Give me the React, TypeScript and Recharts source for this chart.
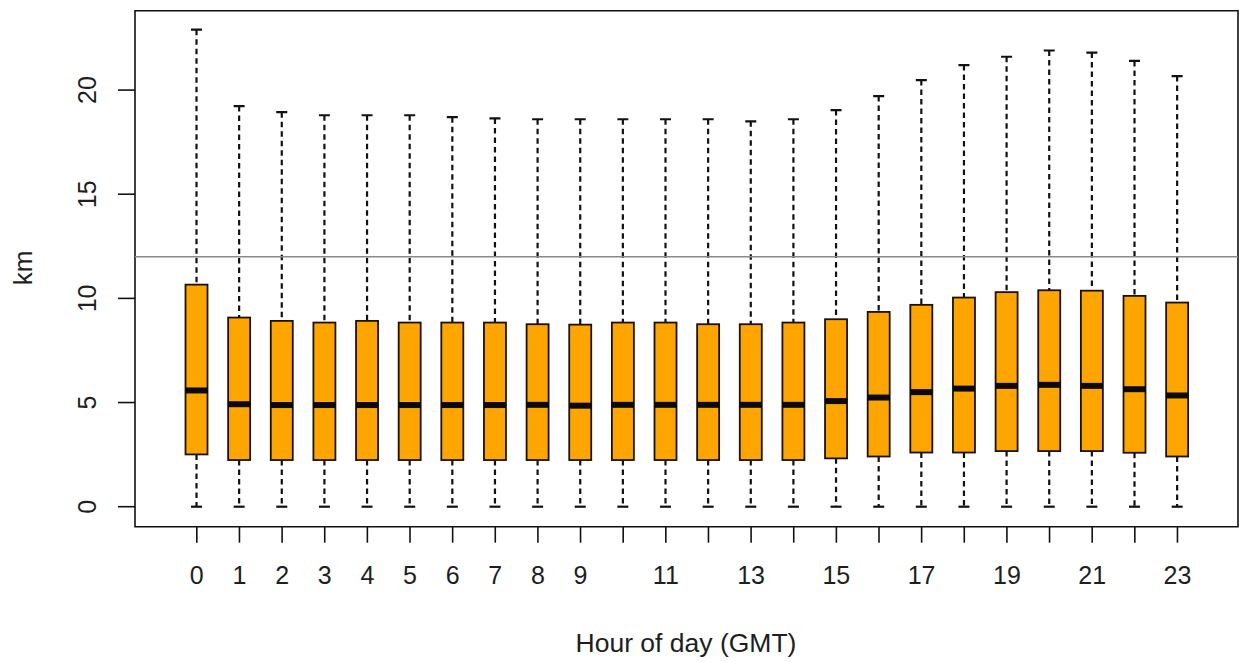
import React from "react";
import {
  ComposedChart,
  Bar,
  XAxis,
  YAxis,
  ReferenceLine,
  ReferenceArea,
  Label,
} from "recharts";

/* ===== data ===== */
const hours = [0, 1, 2, 3, 4, 5, 6, 7, 8, 9, 10, 11, 12, 13, 14, 15, 16, 17, 18, 19, 20, 21, 22, 23];

const xTickLabels = ["0", "1", "2", "3", "4", "5", "6", "7", "8", "9", "", "11", "", "13", "", "15", "", "17", "", "19", "", "21", "", "23"];

const whiskerLow = [0, 0, 0, 0, 0, 0, 0, 0, 0, 0, 0, 0, 0, 0, 0, 0, 0, 0, 0, 0, 0, 0, 0, 0];

const lowerQuartile = [2.51, 2.24, 2.24, 2.24, 2.24, 2.24, 2.24, 2.24, 2.24, 2.24, 2.24, 2.24, 2.24, 2.24, 2.24, 2.32, 2.41, 2.6, 2.6, 2.67, 2.67, 2.67, 2.59, 2.41];

const medians = [5.58, 4.92, 4.88, 4.88, 4.88, 4.88, 4.88, 4.88, 4.89, 4.85, 4.89, 4.89, 4.89, 4.89, 4.89, 5.07, 5.24, 5.5, 5.67, 5.8, 5.85, 5.8, 5.64, 5.34];

const upperQuartile = [10.66, 9.08, 8.92, 8.84, 8.92, 8.84, 8.84, 8.84, 8.76, 8.74, 8.84, 8.84, 8.76, 8.76, 8.84, 9.0, 9.35, 9.69, 10.04, 10.3, 10.39, 10.37, 10.12, 9.8];

const whiskerHigh = [22.9, 19.23, 18.94, 18.79, 18.79, 18.79, 18.7, 18.64, 18.6, 18.6, 18.6, 18.6, 18.6, 18.5, 18.6, 19.04, 19.71, 20.48, 21.2, 21.6, 21.9, 21.8, 21.4, 20.67];

const yTicks = [0, 5, 10, 15, 20];
const threshold = 12;

const X_DOMAIN: [number, number] = [-1.45, 24.42];
const Y_DOMAIN: [number, number] = [-0.96, 23.81];

const FONT = "'Liberation Sans', Arial, Helvetica, sans-serif";
const TEXT = "#1e1e1e";

const rows = hours.map((h, i) => ({
  hour: h,
  low: whiskerLow[i],
  q1: lowerQuartile[i],
  median: medians[i],
  q3: upperQuartile[i],
  high: whiskerHigh[i],
}));

/* ===== one whole box + whiskers per bar ===== */
const BoxShape = (props: any) => {
  const { x, y, width, height, payload } = props;
  if (!payload) return null;
  const top = Math.min(y, y + height);
  const bottom = Math.max(y, y + height);
  const k = (bottom - top) / (payload.high - payload.low);
  const toY = (v: number) => bottom - (v - payload.low) * k;
  const cx = x + width / 2;
  const capHalf = 5.5;

  const yHigh = toY(payload.high);
  const yQ3 = toY(payload.q3);
  const yMed = toY(payload.median);
  const yQ1 = toY(payload.q1);
  const yLow = toY(payload.low);

  return (
    <g>
      <line x1={cx} x2={cx} y1={yHigh} y2={yQ3} stroke="#111" strokeWidth={2.2} strokeDasharray="5.5 4" />
      <line x1={cx} x2={cx} y1={yQ1} y2={yLow} stroke="#111" strokeWidth={2.2} strokeDasharray="5.5 4" />
      <line x1={cx - capHalf} x2={cx + capHalf} y1={yHigh} y2={yHigh} stroke="#111" strokeWidth={2.2} />
      <line x1={cx - capHalf} x2={cx + capHalf} y1={yLow} y2={yLow} stroke="#111" strokeWidth={2.2} />
      <rect x={x} y={yQ3} width={width} height={yQ1 - yQ3} fill="#FFA500" stroke="#1a1208" strokeWidth={1.8} />
      <line x1={x} x2={x + width} y1={yMed} y2={yMed} stroke="#0a0a0a" strokeWidth={6} />
    </g>
  );
};

const XTick = ({ x, y, payload }: any) => {
  const idx = hours.indexOf(payload.value);
  const txt = idx >= 0 ? xTickLabels[idx] : "";
  return (
    <text x={x} y={y} dy="0.71em" textAnchor="middle" fontSize={25} fontFamily={FONT} fill={TEXT}>
      {txt}
    </text>
  );
};

const YTick = ({ x, y, payload }: any) => (
  <text
    x={x}
    y={y}
    transform={`rotate(-90, ${x}, ${y})`}
    textAnchor="middle"
    fontSize={25}
    fontFamily={FONT}
    fill={TEXT}
  >
    {payload.value}
  </text>
);

export default function App() {
  return (
    <div style={{ position: "absolute", left: 0, top: 0, width: 1243, height: 662, background: "#fff" }}>
      <ComposedChart
        width={1243}
        height={662}
        data={rows}
        margin={{ top: 10.7, right: 5, bottom: 35.3, left: 0 }}
      >
        <XAxis
          dataKey="hour"
          type="number"
          domain={X_DOMAIN}
          ticks={hours}
          interval={0}
          allowDataOverflow
          axisLine={false}
          tickSize={16}
          tickMargin={24}
          tickLine={{ stroke: "#111", strokeWidth: 1.6 }}
          tick={<XTick />}
          height={100}
        >
          <Label
            content={() => (
              <text x={686} y={652} textAnchor="middle" fontSize={26.5} fontFamily={FONT} fill={TEXT}>
                Hour of day (GMT)
              </text>
            )}
          />
        </XAxis>
        <YAxis
          type="number"
          domain={Y_DOMAIN}
          ticks={yTicks}
          allowDataOverflow
          axisLine={false}
          tickSize={17}
          tickMargin={22}
          tickLine={{ stroke: "#111", strokeWidth: 1.6 }}
          tick={<YTick />}
          width={135}
        >
          <Label
            content={() => (
              <text
                x={32}
                y={268}
                transform="rotate(-90, 32, 268)"
                textAnchor="middle"
                fontSize={26}
                fontFamily={FONT}
                fill={TEXT}
              >
                km
              </text>
            )}
          />
        </YAxis>

        <ReferenceLine y={threshold} stroke="#8a8a8a" strokeWidth={1.5} ifOverflow="visible" />

        <Bar
          dataKey={(d: any) => [d.low, d.high]}
          barSize={22}
          shape={<BoxShape />}
          isAnimationActive={false}
        />

        <ReferenceArea
          x1={X_DOMAIN[0]}
          x2={X_DOMAIN[1]}
          y1={Y_DOMAIN[0]}
          y2={Y_DOMAIN[1]}
          fill="none"
          fillOpacity={0}
          stroke="#111"
          strokeWidth={1.6}
          ifOverflow="visible"
        />
      </ComposedChart>
    </div>
  );
}
